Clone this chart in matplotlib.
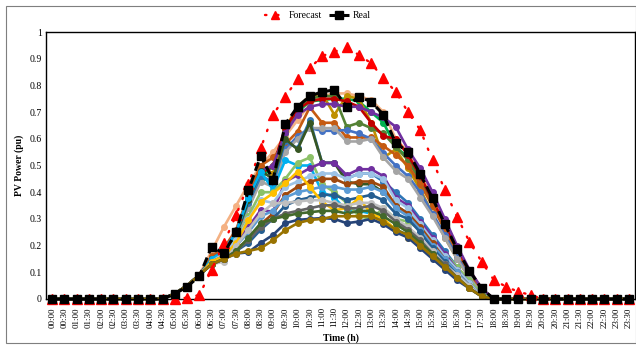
import matplotlib
matplotlib.use("Agg")
import matplotlib.pyplot as plt
from matplotlib.patches import Rectangle

plt.rcParams['font.family'] = ['Liberation Serif', 'DejaVu Serif']

# ---------------- data ----------------
time_labels = [f"{h:02d}:{m:02d}" for h in range(24) for m in (0, 30)]

forecast = [0]*11 + [0.005, 0.015, 0.11, 0.21, 0.315, 0.43, 0.565, 0.69, 0.758, 0.823,
                     0.864, 0.91, 0.926, 0.943, 0.914, 0.883, 0.826, 0.776, 0.70, 0.633,
                     0.52, 0.408, 0.308, 0.215, 0.14, 0.071, 0.046, 0.027, 0.015] + [0]*8

real = [0]*10 + [0.02, 0.046, 0.086, 0.196, 0.171, 0.252, 0.408, 0.536, 0.446, 0.655,
                 0.72, 0.76, 0.776, 0.783, 0.72, 0.758, 0.739, 0.69, 0.583, 0.552,
                 0.468, 0.377, 0.281, 0.186, 0.106, 0.04, 0] + [0]*11

# scenario segments 05:00 .. 18:00 (27 values); zeros outside
scen_colors = [
    "#F4B183", "#00B050", "#BF9000", "#548235", "#C00000", "#C55A11", "#4472C4",
    "#A5A5A5", "#7030A0", "#2E75B6", "#375623",
    "#00B0F0", "#8CC168", "#7030A0", "#9DC3E6", "#9E480E", "#5B9BD5", "#255E91", "#FFC000",
    "#BFBFBF", "#636363", "#43682B", "#264478", "#997300",
]
scen_segments = [
    [0.02,0.05,0.09,0.18,0.27,0.35,0.43,0.50,0.55,0.61,0.67,0.73,0.76,0.77,0.77,0.76,0.745,0.70,0.60,0.55,0.47,0.38,0.29,0.19,0.11,0.04,0],
    [0.02,0.05,0.09,0.15,0.18,0.24,0.34,0.45,0.50,0.62,0.70,0.74,0.745,0.75,0.75,0.74,0.70,0.66,0.57,0.53,0.45,0.36,0.27,0.18,0.10,0.03,0],
    [0.02,0.05,0.09,0.15,0.18,0.25,0.38,0.50,0.47,0.64,0.72,0.76,0.77,0.69,0.76,0.75,0.66,0.53,0.56,0.49,0.41,0.32,0.23,0.15,0.08,0.02,0],
    [0.02,0.05,0.09,0.15,0.18,0.24,0.36,0.47,0.50,0.63,0.71,0.75,0.76,0.76,0.645,0.66,0.64,0.62,0.57,0.52,0.44,0.35,0.26,0.17,0.09,0.03,0],
    [0.02,0.05,0.09,0.15,0.18,0.24,0.36,0.47,0.50,0.64,0.71,0.74,0.75,0.75,0.74,0.72,0.66,0.61,0.60,0.54,0.46,0.37,0.28,0.18,0.10,0.03,0],
    [0.02,0.05,0.09,0.16,0.19,0.26,0.39,0.50,0.53,0.58,0.627,0.718,0.66,0.66,0.605,0.605,0.605,0.573,0.54,0.50,0.43,0.35,0.26,0.17,0.09,0.03,0],
    [0.02,0.05,0.09,0.15,0.18,0.25,0.38,0.46,0.44,0.56,0.61,0.64,0.63,0.63,0.633,0.62,0.60,0.546,0.50,0.46,0.40,0.32,0.24,0.16,0.08,0.02,0],
    [0.02,0.05,0.09,0.14,0.17,0.23,0.34,0.44,0.42,0.55,0.60,0.64,0.64,0.64,0.59,0.59,0.60,0.53,0.48,0.45,0.38,0.31,0.23,0.15,0.08,0.02,0],
    [0.02,0.05,0.09,0.15,0.18,0.25,0.37,0.48,0.50,0.62,0.69,0.72,0.73,0.73,0.72,0.72,0.70,0.68,0.645,0.56,0.49,0.40,0.30,0.20,0.11,0.04,0],
    [0.02,0.05,0.09,0.15,0.18,0.24,0.36,0.46,0.43,0.59,0.565,0.67,0.51,0.51,0.45,0.47,0.47,0.44,0.40,0.36,0.30,0.24,0.18,0.12,0.06,0.02,0],
    [0.02,0.05,0.09,0.15,0.18,0.24,0.37,0.48,0.45,0.60,0.56,0.66,0.51,0.51,0.44,0.43,0.43,0.40,0.35,0.32,0.27,0.21,0.15,0.10,0.05,0.01,0],
    [0.02,0.05,0.09,0.15,0.18,0.25,0.38,0.477,0.41,0.52,0.50,0.50,0.40,0.38,0.33,0.33,0.32,0.29,0.26,0.24,0.22,0.18,0.14,0.09,0.05,0.01,0],
    [0.02,0.05,0.09,0.14,0.17,0.22,0.31,0.40,0.40,0.45,0.51,0.53,0.43,0.40,0.36,0.31,0.30,0.34,0.30,0.29,0.26,0.22,0.17,0.12,0.07,0.02,0],
    [0.02,0.05,0.09,0.14,0.16,0.21,0.27,0.333,0.327,0.44,0.464,0.49,0.51,0.51,0.464,0.486,0.486,0.46,0.38,0.35,0.29,0.23,0.17,0.11,0.06,0.01,0],
    [0.02,0.05,0.09,0.14,0.17,0.22,0.30,0.37,0.36,0.42,0.44,0.46,0.47,0.47,0.45,0.47,0.47,0.45,0.37,0.34,0.28,0.22,0.16,0.11,0.06,0.01,0],
    [0.02,0.05,0.09,0.14,0.16,0.19,0.22,0.28,0.32,0.39,0.42,0.44,0.45,0.45,0.43,0.44,0.44,0.42,0.35,0.32,0.27,0.21,0.15,0.10,0.05,0.01,0],
    [0.02,0.05,0.09,0.14,0.16,0.20,0.25,0.31,0.33,0.38,0.40,0.41,0.42,0.42,0.41,0.41,0.42,0.40,0.34,0.31,0.26,0.20,0.15,0.10,0.05,0.01,0],
    [0.02,0.05,0.09,0.13,0.15,0.18,0.21,0.26,0.30,0.35,0.37,0.38,0.39,0.39,0.37,0.38,0.39,0.37,0.32,0.30,0.25,0.19,0.14,0.09,0.05,0.01,0],
    [0.02,0.05,0.09,0.14,0.16,0.21,0.296,0.364,0.396,0.433,0.477,0.42,0.364,0.333,0.34,0.377,0.32,0.30,0.26,0.23,0.20,0.16,0.12,0.08,0.04,0.01,0],
    [0.02,0.05,0.09,0.13,0.14,0.20,0.26,0.32,0.358,0.36,0.365,0.37,0.37,0.36,0.35,0.36,0.36,0.34,0.30,0.27,0.23,0.18,0.13,0.09,0.05,0.01,0],
    [0.02,0.05,0.09,0.13,0.15,0.18,0.22,0.27,0.30,0.32,0.33,0.34,0.35,0.352,0.34,0.34,0.35,0.33,0.29,0.26,0.22,0.17,0.13,0.08,0.04,0.01,0],
    [0.02,0.05,0.09,0.13,0.15,0.18,0.23,0.284,0.30,0.31,0.32,0.325,0.33,0.33,0.32,0.33,0.33,0.31,0.28,0.25,0.21,0.17,0.12,0.08,0.04,0.01,0],
    [0.02,0.05,0.09,0.13,0.15,0.17,0.175,0.21,0.24,0.284,0.296,0.30,0.303,0.30,0.284,0.29,0.30,0.28,0.25,0.23,0.19,0.15,0.11,0.07,0.04,0.01,0],
    [0.02,0.05,0.09,0.13,0.15,0.17,0.18,0.19,0.22,0.258,0.284,0.296,0.30,0.31,0.31,0.31,0.31,0.29,0.26,0.24,0.20,0.16,0.12,0.08,0.04,0.01,0],
]
scenarios = [[0]*10 + seg + [0]*11 for seg in scen_segments]

y_ticks = [0, 0.1, 0.2, 0.3, 0.4, 0.5, 0.6, 0.7, 0.8, 0.9, 1]
y_tick_labels = ["0", "0.1", "0.2", "0.3", "0.4", "0.5", "0.6", "0.7", "0.8", "0.9", "1"]

# ---------------- plot ----------------
fig = plt.figure(figsize=(6.36, 3.45), dpi=100)
ax = fig.add_axes([46/636, 1-299/345, (635-46)/636, (299-32)/345])

x = list(range(len(time_labels)))
for vals, col in zip(scenarios, scen_colors):
    ax.plot(x, vals, color=col, lw=1.9, marker='o', ms=4.0, mec=col, mfc=col,
            clip_on=False, zorder=2)

ax.plot(x, forecast, color='#FF0000', lw=1.7, ls=(0, (0.6, 4.5)), dash_capstyle='round',
        marker='^', ms=7, mec='#FF0000', mfc='#FF0000', clip_on=False, zorder=3,
        label='Forecast')
ax.plot(x, real, color='black', lw=2.2, ls=(0, (3, 1.5)), marker='s', ms=6.3,
        mec='black', mfc='black', clip_on=False, zorder=4, label='Real')

ax.set_xlim(-0.5, len(time_labels) - 0.5)
ax.set_ylim(0, 1)
ax.set_xticks(x)
ax.set_xticklabels(time_labels, rotation=90, fontsize=6.5)
ax.set_yticks(y_ticks)
ax.set_yticklabels(y_tick_labels, fontsize=7)
ax.tick_params(axis='both', length=0, pad=3)
ax.tick_params(axis='x', pad=6)
for sp in ax.spines.values():
    sp.set_color('black')
    sp.set_linewidth(1.0)

ax.set_ylabel('PV Power (pu)', fontsize=7, fontweight='bold', labelpad=4)
ax.set_xlabel('Time (h)', fontsize=7, fontweight='bold', labelpad=4)

leg = fig.legend(loc='center', bbox_to_anchor=(0.5, 1-16/345), ncol=2, frameon=False,
                 fontsize=7, handlelength=2.0, columnspacing=0.8, handletextpad=0.4,
                 markerscale=0.9)

fig.add_artist(Rectangle((6/636, 2/345), 1 - 6/636 - 0.5/636, 1 - 8/345,
                         transform=fig.transFigure, fill=False, edgecolor='#7F7F7F',
                         lw=0.8, zorder=0))

fig.savefig('out.png', dpi=100)
